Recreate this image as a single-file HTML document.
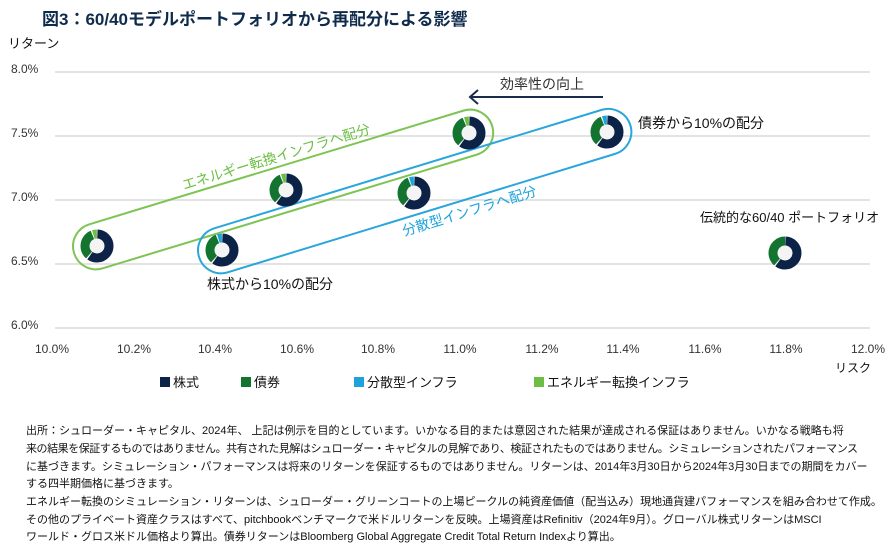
<!DOCTYPE html>
<html><head><meta charset="utf-8"><style>
body{margin:0;background:#fff;width:891px;height:541px;overflow:hidden;font-family:"Liberation Sans","Noto Sans CJK JP",sans-serif;}
.t{position:absolute;white-space:nowrap;}
.f{position:absolute;left:26px;font-size:11px;color:#111;white-space:nowrap;}
</style></head><body>
<div class="t" style="left:42px;top:5px;font-size:17px;font-weight:bold;color:#0f2b4c;">図3：60/40モデルポートフォリオから再配分による影響</div>
<svg width="891" height="541" style="position:absolute;left:0;top:0" font-family="Liberation Sans, Noto Sans CJK JP, sans-serif">
<defs>
<symbol id="dg" viewBox="-17 -17 34 34" overflow="visible">
<circle r="12" fill="#f4f4f4" stroke="none"/>
<circle r="12" fill="none" stroke="#0c2246" stroke-width="9" stroke-dasharray="44.6 75.4" stroke-dashoffset="-0.4" transform="rotate(-90)"/>
<circle r="12" fill="none" stroke="#12742f" stroke-width="9" stroke-dasharray="24.1 75.4" stroke-dashoffset="-46.1" transform="rotate(-90)"/>
<circle r="12" fill="none" stroke="#6cbf44" stroke-width="9" stroke-dasharray="3.6 75.4" stroke-dashoffset="-71.2" transform="rotate(-90)"/>
</symbol>
<symbol id="db" viewBox="-17 -17 34 34" overflow="visible">
<circle r="12" fill="#f4f4f4" stroke="none"/>
<circle r="12" fill="none" stroke="#0c2246" stroke-width="9" stroke-dasharray="44.6 75.4" stroke-dashoffset="-0.4" transform="rotate(-90)"/>
<circle r="12" fill="none" stroke="#12742f" stroke-width="9" stroke-dasharray="24.1 75.4" stroke-dashoffset="-46.1" transform="rotate(-90)"/>
<circle r="12" fill="none" stroke="#1ca3dc" stroke-width="9" stroke-dasharray="3.6 75.4" stroke-dashoffset="-71.2" transform="rotate(-90)"/>
</symbol>
<symbol id="dn" viewBox="-17 -17 34 34" overflow="visible">
<circle r="12" fill="#f4f4f4" stroke="none"/>
<circle r="12" fill="none" stroke="#0c2246" stroke-width="9" stroke-dasharray="44.6 75.4" stroke-dashoffset="-0.4" transform="rotate(-90)"/>
<circle r="12" fill="none" stroke="#12742f" stroke-width="9" stroke-dasharray="29.5 75.4" stroke-dashoffset="-46.1" transform="rotate(-90)"/>
</symbol>
</defs>
<g stroke="#e3e3e3" stroke-width="2">
<line x1="55" x2="870" y1="72" y2="72"/><line x1="55" x2="870" y1="136" y2="136"/><line x1="55" x2="870" y1="200" y2="200"/><line x1="55" x2="870" y1="264" y2="264"/><line x1="55" x2="870" y1="328" y2="328"/>
</g>
<g font-size="12" fill="#333">
<text x="8" y="48" font-size="13" fill="#111">リターン</text>
<text x="11" y="73">8.0%</text><text x="11" y="137">7.5%</text><text x="11" y="201">7.0%</text><text x="11" y="265">6.5%</text><text x="11" y="329">6.0%</text>
<g text-anchor="middle"><text x="52" y="353">10.0%</text><text x="134" y="353">10.2%</text><text x="215" y="353">10.4%</text><text x="297" y="353">10.6%</text><text x="378" y="353">10.8%</text><text x="460" y="353">11.0%</text><text x="542" y="353">11.2%</text><text x="623" y="353">11.4%</text><text x="705" y="353">11.6%</text><text x="786" y="353">11.8%</text><text x="868" y="353">12.0%</text></g>
<text x="835" y="372" fill="#111">リスク</text>
</g>
<rect x="-24" y="-23" width="437" height="46" rx="23" fill="none" stroke="#7dc453" stroke-width="2" transform="translate(97,246) rotate(-16.9)"/>
<rect x="-24" y="-23" width="451" height="46" rx="23" fill="none" stroke="#2aa6dd" stroke-width="2" transform="translate(222,250) rotate(-17.0)"/>
<text font-size="14" fill="#6cbf44" transform="translate(184,190) rotate(-16.9)">エネルギー転換インフラへ配分</text>
<text font-size="14" fill="#1ca3dc" transform="translate(404,236) rotate(-17)">分散型インフラへ配分</text>
<use href="#dg" x="80" y="229" width="34" height="34"/>
<use href="#dg" x="269" y="173" width="34" height="34"/>
<use href="#dg" x="452" y="116" width="34" height="34"/>
<use href="#db" x="205" y="233" width="34" height="34"/>
<use href="#db" x="397" y="176" width="34" height="34"/>
<use href="#db" x="590" y="115" width="34" height="34"/>
<use href="#dn" x="768" y="236" width="34" height="34"/>
<g font-size="14" fill="#111">
<text x="638" y="128">債券から10%の配分</text>
<text x="700" y="222" font-size="13">伝統的な60/40 ポートフォリオ</text>
<text x="207" y="289">株式から10%の配分</text>
<text x="500" y="89" fill="#333">効率性の向上</text>
</g>
<line x1="603" y1="97" x2="470" y2="97" stroke="#1a2b4c" stroke-width="2"/>
<polyline points="478,90 470,97 478,104" fill="none" stroke="#1a2b4c" stroke-width="2"/>
<g font-size="13" fill="#111">
<rect x="160" y="377" width="10" height="10" fill="#0c2246"/><text x="173" y="387">株式</text>
<rect x="241" y="377" width="10" height="10" fill="#12742f"/><text x="254" y="387">債券</text>
<rect x="354" y="377" width="10" height="10" fill="#1ca3dc"/><text x="367" y="387">分散型インフラ</text>
<rect x="534" y="377" width="10" height="10" fill="#6cbf44"/><text x="547" y="387">エネルギー転換インフラ</text>
</g>
</svg>
<div class="f" style="top:422px">出所：シュローダー・キャピタル、2024年、 上記は例示を目的としています。いかなる目的または意図された結果が達成される保証はありません。いかなる戦略も将</div>
<div class="f" style="top:440px;letter-spacing:-0.45px">来の結果を保証するものではありません。共有された見解はシュローダー・キャピタルの見解であり、検証されたものではありません。シミュレーションされたパフォーマンス</div>
<div class="f" style="top:458px">に基づきます。シミュレーション・パフォーマンスは将来のリターンを保証するものではありません。リターンは、2014年3月30日から2024年3月30日までの期間をカバー</div>
<div class="f" style="top:475px">する四半期価格に基づきます。</div>
<div class="f" style="top:493px">エネルギー転換のシミュレーション・リターンは、シュローダー・グリーンコートの上場ピークルの純資産価値（配当込み）現地通貨建パフォーマンスを組み合わせて作成。</div>
<div class="f" style="top:511px">その他のプライベート資産クラスはすべて、pitchbookベンチマークで米ドルリターンを反映。上場資産はRefinitiv（2024年9月）。グローバル株式リターンはMSCI</div>
<div class="f" style="top:528px">ワールド・グロス米ドル価格より算出。債券リターンはBloomberg Global Aggregate Credit Total Return Indexより算出。</div>
</body></html>
